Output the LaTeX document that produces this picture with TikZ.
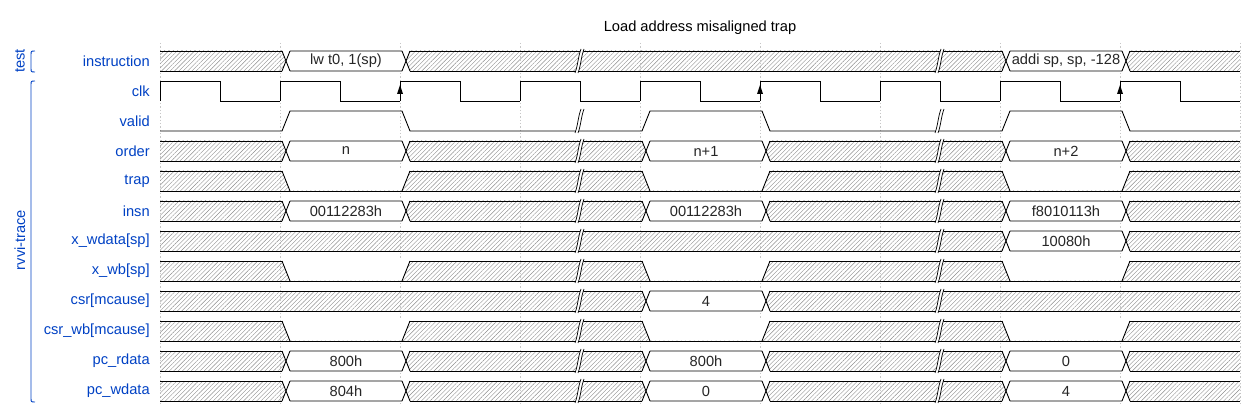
\documentclass[tikz,border=0pt]{standalone}
\usepackage{fontspec}
\setmainfont{Liberation Sans}
\usetikzlibrary{patterns.meta}

\definecolor{wdblue}{HTML}{0041C4}

\tikzset{
  lbl/.style={anchor=east, inner sep=0pt, text=wdblue},
  grplbl/.style={rotate=90, inner sep=0pt, text=wdblue},
  grpline/.style={draw=wdblue, line width=0.7pt},
  val/.style={inner sep=0pt, text=black!85},
  wire/.style={line width=0.65pt},
  hatch/.style={pattern={Lines[angle=45,distance=2.3pt,line width=0.3pt]}, pattern color=black!45},
  gridline/.style={draw=black!22, dash pattern=on 1pt off 1.5pt, line width=0.5pt}
}

% bus value: row, from, to, text, name
\newcommand\busval[5]{%
  \fill[white] (#2+2,#1-11) -- (#3+10,#1-11) -- (#3+6,#1) -- (#3+10,#1+11) -- (#2+2,#1+11) -- (#2+6,#1) -- cycle;
  \draw[wire] (#2+2,#1-10) -- (#2+10,#1+10) (#2+2,#1+10) -- (#2+10,#1-10)
    (#2+10,#1-10) -- (#3+2,#1-10) (#2+10,#1+10) -- (#3+2,#1+10)
    (#3+2,#1-10) -- (#3+10,#1+10) (#3+2,#1+10) -- (#3+10,#1-10);
  \node[val] (#5) at ({(#2+#3)/2+6},#1) {#4};
}
% low level inside a hatched row: row, from, to
\newcommand\buslow[3]{%
  \fill[white] (#2+2,#1-11) -- (#3+10,#1-11) -- (#3+2,#1+9.5) -- (#2+10,#1+9.5) -- cycle;
  \draw[wire] (#2+2,#1-10) -- (#2+10,#1+10) (#3+2,#1+10) -- (#3+10,#1-10);
}
% time gap: x, row
\newcommand\gapmark[2]{%
  \fill[white] (#1-5,#2+12) .. controls (#1-2,#2+4) and (#1-2,#2-4) .. (#1+1,#2-12)
    -- (#1+4,#2-12) .. controls (#1+1,#2-4) and (#1+1,#2+4) .. (#1-2,#2+12) -- cycle;
  \draw[line width=0.55pt] (#1-5,#2+12) .. controls (#1-2,#2+4) and (#1-2,#2-4) .. (#1+1,#2-12)
    (#1-2,#2+12) .. controls (#1+1,#2+4) and (#1+1,#2-4) .. (#1+4,#2-12);
}

\begin{document}
\begin{tikzpicture}[x=0.75pt, y=-0.75pt, font=\fontsize{11pt}{13pt}\selectfont]
  \useasboundingbox (0,0) rectangle (1260,406);

  \node (title) at (700,28) {Load address misaligned trap};

  \foreach \t in {160,280,...,1240}
    \draw[gridline] (\t,43) -- (\t,406);

  \foreach \y in {61,151,181,211,241,271,301,331,361,391} {
    \fill[hatch] (160,\y-10) rectangle (1240,\y+10);
    \draw[wire] (160,\y-10) -- (1240,\y-10) (160,\y+10) -- (1240,\y+10);
  }

  \foreach \y in {181,271,331}
    \foreach \a/\b in {280/400,640/760,1000/1120}
      \buslow{\y}{\a}{\b};

  \foreach \y/\a/\b/\t [count=\k] in {
      61/280/400/{lw t0, 1(sp)}, 61/1000/1120/{addi sp, sp, -128},
      151/280/400/n, 151/640/760/n+1, 151/1000/1120/n+2,
      211/280/400/00112283h, 211/640/760/00112283h, 211/1000/1120/f8010113h,
      241/1000/1120/10080h,
      301/640/760/4,
      361/280/400/800h, 361/640/760/800h, 361/1000/1120/0,
      391/280/400/804h, 391/640/760/0, 391/1000/1120/4}
    \busval{\y}{\a}{\b}{\t}{v\k};

  \draw[wire] (160,131) -- (282,131) -- (290,111) -- (402,111) -- (410,131)
    -- (642,131) -- (650,111) -- (762,111) -- (770,131)
    -- (1002,131) -- (1010,111) -- (1122,111) -- (1130,131) -- (1240,131);

  \foreach \t in {160,280,...,1120}
    \draw[wire] (\t,101) -- (\t,81) -- (\t+60,81) -- (\t+60,101) -- (\t+120,101);
  \foreach \t in {400,760,1120}
    \fill (\t,85) -- (\t-3,94) -- (\t+3,94) -- cycle;

  \foreach \x in {580,940}
    \foreach \y in {61,121,151,181,211,241,271,301,331,361,391}
      \gapmark{\x}{\y};

  \foreach \n [count=\i from 0] in {instruction,clk,valid,order,trap,insn,
      x\_wdata[sp],x\_wb[sp],csr[mcause],csr\_wb[mcause],pc\_rdata,pc\_wdata}
    \node[lbl] (lbl\i) at (150,61+30*\i) {\n};

  \node[grplbl] (grptest) at (20,61) {test};
  \draw[grpline] (35,51) .. controls (31,51) .. (31,55) -- (31,68) .. controls (31,72) .. (35,72);
  \node[grplbl] (grprvvi) at (20,240) {rvvi-trace};
  \draw[grpline] (35,81) .. controls (31,81) .. (31,85) -- (31,398) .. controls (31,402) .. (35,402);
\end{tikzpicture}
\end{document}
